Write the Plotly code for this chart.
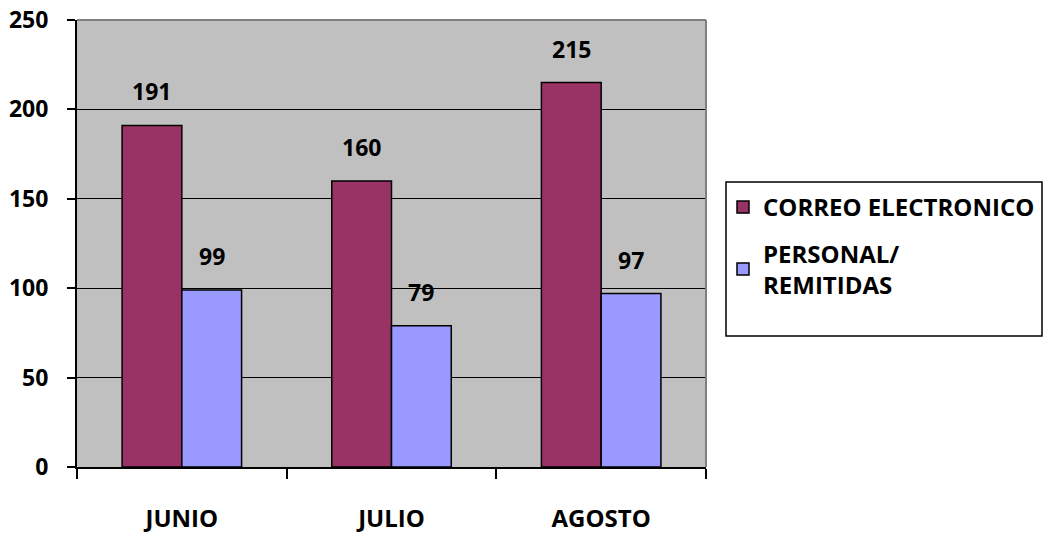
import plotly.graph_objects as go

months = ["JUNIO", "JULIO", "AGOSTO"]
correo = [191, 160, 215]
personal = [99, 79, 97]
series_names = ["CORREO ELECTRONICO", "PERSONAL/<br>REMITIDAS"]
y_ticks = [0, 50, 100, 150, 200, 250]

FONT = "Open Sans"
FS = 23

W, H = 1044, 537
ML, MR, MT, MB = 77, 338, 20, 70
BARGAP = 0.43

fig = go.Figure()
fig.add_trace(go.Bar(
    x=months, y=correo, name=series_names[0],
    marker=dict(color="#993366", line=dict(color="black", width=1.5)),
    legendgroup="a",
))
fig.add_trace(go.Bar(
    x=months, y=personal, name=series_names[1],
    marker=dict(color="#9999FF", line=dict(color="black", width=1.5)),
    legendgroup="b",
))

# value labels above bars
plot_w = W - ML - MR
plot_h = H - MT - MB
bar_w = plot_w / len(months) * (1 - BARGAP) / 2
for si, vals in enumerate([correo, personal]):
    for m, v in zip(months, vals):
        fig.add_annotation(
            x=m, y=v, text=str(v), showarrow=False,
            xshift=(si - 0.5) * bar_w, yshift=34, yanchor="middle",
            font=dict(family=FONT, size=FS, color="black", weight="bold"),
        )

fig.update_layout(
    width=W, height=H,
    margin=dict(l=ML, r=MR, t=MT, b=MB, autoexpand=False),
    paper_bgcolor="white", plot_bgcolor="#C0C0C0",
    font=dict(family=FONT, size=FS, color="black"),
    barmode="group", bargap=BARGAP, bargroupgap=0,
    showlegend=True,
    legend=dict(
        x=(723 - ML) / plot_w, y=(H - MB - 185) / plot_h, xanchor="left", yanchor="top",
        borderwidth=0, bgcolor="rgba(0,0,0,0)",
        font=dict(family=FONT, size=24, color="black", weight="bold"),
        traceorder="grouped", tracegroupgap=12,
        entrywidth=270,
    ),
)
# legend frame
fig.add_shape(type="rect", xref="paper", yref="paper",
              x0=(726 - ML) / plot_w, x1=(1042 - ML) / plot_w,
              y0=(H - MB - 336) / plot_h, y1=(H - MB - 182) / plot_h,
              line=dict(color="black", width=1.5), fillcolor="white", layer="below")
fig.update_xaxes(
    type="category", tickson="boundaries", ticks="outside", ticklen=10,
    tickwidth=2, tickcolor="black", showline=True, linecolor="black", linewidth=2,
    tickfont=dict(family=FONT, size=24, color="black", weight="bold"),
    ticklabelstandoff=29, showgrid=False, automargin=False,
)
fig.update_yaxes(
    range=[0, 250], tickvals=y_ticks, ticks="outside", ticklen=8, tickwidth=2,
    tickcolor="black", showline=True, linecolor="black", linewidth=2,
    showgrid=True, gridcolor="black", gridwidth=1, zeroline=False,
    tickfont=dict(family=FONT, size=FS, color="black", weight="bold"),
    ticklabelstandoff=14, automargin=False,
)
fig.add_shape(type="line", xref="paper", yref="paper", x0=0, x1=1, y0=1, y1=1,
              line=dict(color="#808080", width=2))
fig.add_shape(type="line", xref="paper", yref="paper", x0=1, x1=1, y0=0, y1=1,
              line=dict(color="#808080", width=2))

fig.write_html("out.html")
